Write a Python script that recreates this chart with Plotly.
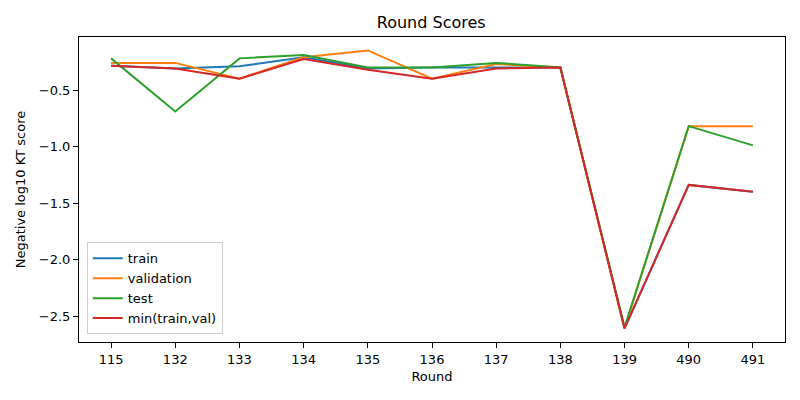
import plotly.graph_objects as go

# rounds on the x axis (categorical)
rounds = ["115", "132", "133", "134", "135", "136", "137", "138", "139", "490", "491"]

train      = [-0.285, -0.31, -0.29, -0.21, -0.31, -0.30, -0.30, -0.30, -2.61, -1.34, -1.40]
validation = [-0.26, -0.26, -0.40, -0.21, -0.15, -0.40, -0.27, -0.30, -2.61, -0.82, -0.82]
test       = [-0.22, -0.69, -0.22, -0.19, -0.30, -0.30, -0.26, -0.30, -2.60, -0.82, -0.99]
min_tv     = [-0.285, -0.31, -0.40, -0.225, -0.32, -0.40, -0.31, -0.30, -2.61, -1.34, -1.40]

series = [
    ("train", train, "#1f77b4"),
    ("validation", validation, "#ff7f0e"),
    ("test", test, "#2ca02c"),
    ("min(train,val)", min_tv, "#d62728"),
]

fig = go.Figure()
for name, vals, col in series:
    fig.add_trace(go.Scatter(x=list(range(len(rounds))), y=vals, mode="lines",
                             name=name, line=dict(color=col, width=2)))

axis_style = dict(showline=True, linecolor="black", linewidth=1, mirror=True,
                  ticks="outside", ticklen=5, tickcolor="black", showgrid=False,
                  zeroline=False, automargin=False,
                  tickfont=dict(family="DejaVu Sans", size=13, color="black"))

# page body adds an 8px offset, so margins are shifted to compensate
fig.update_layout(
    width=800, height=400,
    margin=dict(l=71, r=23, t=29, b=66),
    paper_bgcolor="white", plot_bgcolor="white",
    font=dict(family="DejaVu Sans", size=13, color="black"),
    title=dict(text="Round Scores", x=0.529, xanchor="center", y=0.965,
               yanchor="middle", font=dict(size=16)),
    legend=dict(x=0.011, y=0.025, xanchor="left", yanchor="bottom",
                bordercolor="#cccccc", borderwidth=1, bgcolor="rgba(255,255,255,0.8)",
                font=dict(size=13), tracegroupgap=2),
)
fig.update_xaxes(**axis_style, tickmode="array", tickvals=list(range(len(rounds))),
                 ticktext=rounds, range=[-0.5, 10.5],
                 title=dict(text="Round", standoff=6, font=dict(size=13)))
fig.update_yaxes(**axis_style, range=[-2.73, -0.031], tickvals=[-0.5, -1.0, -1.5, -2.0, -2.5],
                 ticktext=["\u22120.5", "\u22121.0", "\u22121.5", "\u22122.0", "\u22122.5"],
                 title=dict(text="Negative log10 KT score", standoff=10, font=dict(size=13)))

fig.write_html("out.html")
